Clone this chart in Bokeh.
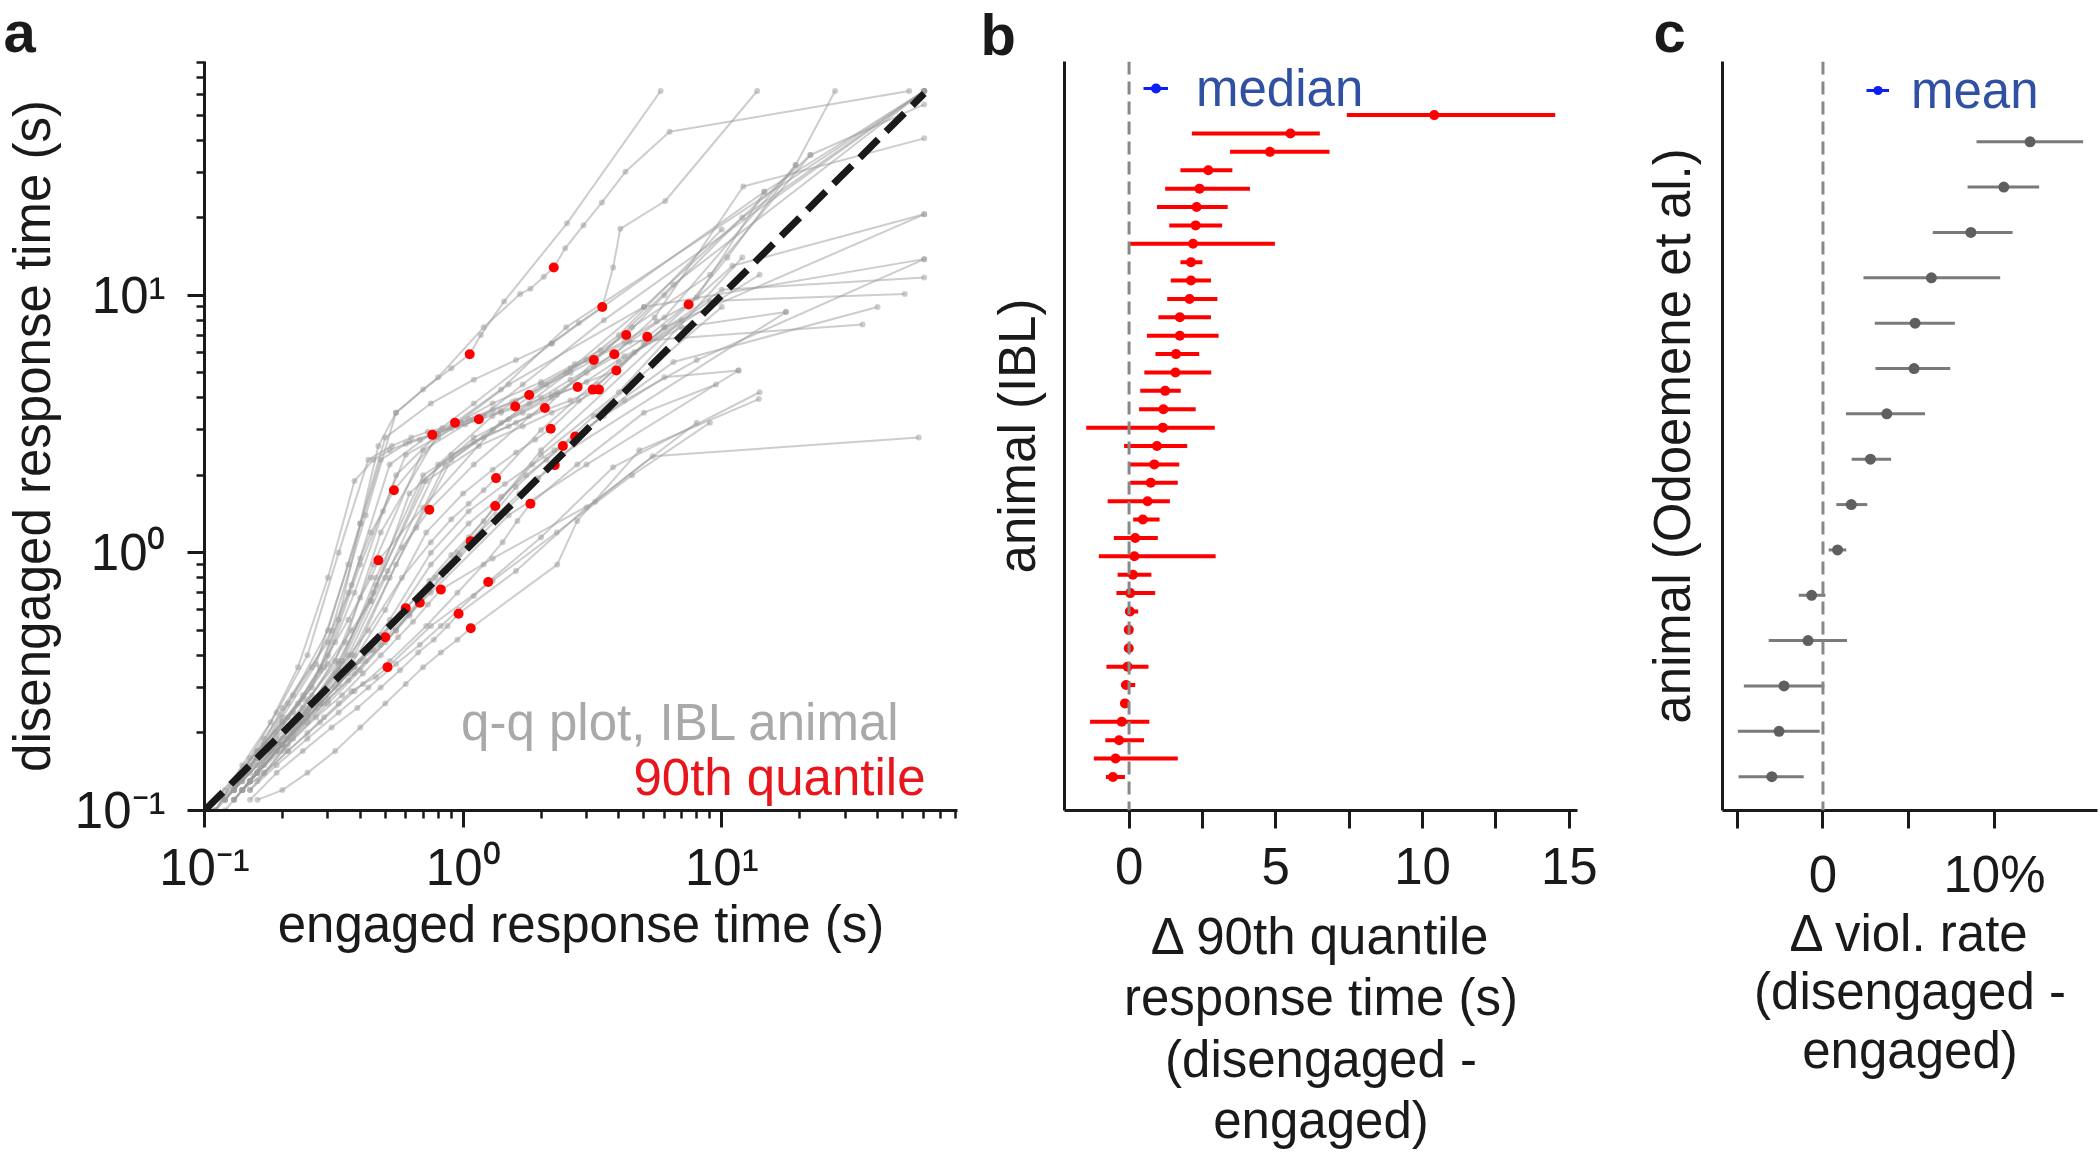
from bokeh.plotting import figure
from bokeh.models import (Range1d, FixedTicker, CustomJSTickFormatter, Span, Label,
                          Legend, LegendItem, Title)
from bokeh.layouts import row
from bokeh.embed import file_html
from bokeh.resources import INLINE

FONT = "Liberation Sans"
FS = "51px"
NAN = float("nan")

# ---------------- panel a : q-q lines (engaged vs disengaged response time, s)
qq_engaged = [
    [0.14, 0.2, 0.3, 0.42, 0.55, 0.8, 1.2, 1.66, 1.82, 2.05, 2.24, 2.48, 2.92, 3.44, 4.24, 6.28, 53.0],
    [0.13, 0.17, 0.22, 0.3, 0.4, 0.5, 0.75, 1.1, 1.6, 2.2, 2.8, 3.45, 3.8, 4.05, 6.04, 13.7],
    [0.15, 0.2, 0.27, 0.36, 0.5, 0.8, 1.3, 2.0, 3.0, 4.2, 5.6, 7.44, 10.5, 19.3, 27.4],
    [0.14, 0.19, 0.26, 0.35, 0.48, 0.8, 1.3, 2.0, 2.7, 3.4, 4.27, 6.0, 12.0, 60.6],
    [0.15, 0.2, 0.27, 0.38, 0.55, 0.9, 1.5, 2.3, 3.0, 3.9, 5.15, 8.0, 14.6, 60.6],
    [0.12, 0.16, 0.2, 0.26, 0.33, 0.4, 0.47, 0.55, 0.7, 0.9, 1.06, 1.17, 1.44, 2.52, 5.8],
    [0.13, 0.18, 0.24, 0.32, 0.45, 0.7, 1.1, 1.6, 2.1, 2.6, 3.2, 4.5, 9.0, 22.0, 60.6],
    [0.15, 0.2, 0.27, 0.37, 0.52, 0.85, 1.4, 2.0, 2.6, 3.2, 3.84, 5.5, 12.1, 60.6],
    [0.14, 0.19, 0.25, 0.33, 0.45, 0.7, 1.1, 1.7, 2.3, 3.0, 3.91, 6.0, 11.0, 60.6],
    [0.13, 0.17, 0.23, 0.3, 0.4, 0.6, 0.95, 1.4, 1.8, 2.2, 2.77, 4.2, 7.0, 17.7],
    [0.15, 0.2, 0.26, 0.34, 0.46, 0.7, 1.1, 1.6, 2.1, 2.6, 3.17, 4.6, 9.0, 51.0],
    [0.14, 0.19, 0.25, 0.33, 0.46, 0.72, 1.15, 1.7, 2.2, 2.8, 3.35, 5.0, 10.0, 60.6],
    [0.13, 0.17, 0.22, 0.29, 0.38, 0.55, 0.8, 1.05, 1.3, 1.55, 1.8, 2.6, 4.4, 35.0],
    [0.12, 0.16, 0.21, 0.28, 0.37, 0.52, 0.75, 0.98, 1.2, 1.4, 1.59, 2.5, 5.0, 60.6],
    [0.14, 0.19, 0.25, 0.33, 0.44, 0.62, 0.9, 1.2, 1.5, 1.8, 2.07, 3.2, 6.5, 60.6],
    [0.12, 0.16, 0.2, 0.27, 0.36, 0.48, 0.62, 0.77, 0.9, 1.02, 1.15, 1.7, 3.5, 60.6],
    [0.11, 0.15, 0.19, 0.25, 0.33, 0.43, 0.53, 0.63, 0.73, 0.83, 0.93, 1.4, 2.5, 60.6],
    [0.11, 0.14, 0.18, 0.23, 0.3, 0.38, 0.45, 0.52, 0.6, 0.68, 0.76, 1.1, 2.2, 14.6],
    [0.15, 0.2, 0.27, 0.37, 0.5, 0.72, 1.0, 1.3, 1.6, 1.9, 2.18, 3.3, 6.0, 60.6],
    [0.16, 0.21, 0.28, 0.38, 0.52, 0.75, 1.05, 1.45, 1.85, 2.25, 2.71, 4.2, 8.0, 60.6],
    [0.16, 0.21, 0.28, 0.38, 0.52, 0.75, 1.05, 1.4, 1.75, 2.1, 2.43, 3.5, 6.0, 11.6],
    [0.17, 0.22, 0.3, 0.4, 0.55, 0.78, 1.05, 1.35, 1.65, 1.95, 2.26, 3.5, 6.5, 40.0],
    [0.14, 0.18, 0.24, 0.32, 0.43, 0.58, 0.75, 0.9, 1.05, 1.2, 1.34, 2.0, 4.0, 14.0],
    [0.11, 0.14, 0.17, 0.21, 0.26, 0.31, 0.36, 0.4, 0.44, 0.49, 0.54, 0.8, 1.5, 5.0, 22.0],
    [0.12, 0.15, 0.19, 0.24, 0.3, 0.37, 0.44, 0.51, 0.58, 0.66, 0.74, 1.1, 2.2, 6.0, 19.3],
    [0.15, 0.19, 0.25, 0.33, 0.44, 0.58, 0.74, 0.9, 1.05, 1.2, 1.33, 2.0, 4.0, 12.0],
    [0.16, 0.21, 0.28, 0.38, 0.52, 0.72, 0.95, 1.2, 1.42, 1.62, 1.82, 2.76, 5.0, 9.5],
    [0.11, 0.13, 0.16, 0.2, 0.24, 0.28, 0.32, 0.36, 0.4, 0.44, 0.47, 0.7, 1.3, 4.0, 10.0],
    [0.15, 0.19, 0.25, 0.33, 0.43, 0.55, 0.68, 0.82, 0.96, 1.1, 1.25, 2.0, 3.8, 14.0],
    [0.13, 0.16, 0.21, 0.27, 0.34, 0.41, 0.48, 0.56, 0.64, 0.73, 0.82, 1.3, 3.24, 5.4, 57.7],
    [0.12, 0.15, 0.19, 0.23, 0.28, 0.33, 0.38, 0.43, 0.48, 0.54, 0.6, 0.95, 2.0, 7.0],
    [0.13, 0.16, 0.2, 0.25, 0.3, 0.36, 0.42, 0.48, 0.55, 0.62, 0.68, 1.05, 2.4, 17.7],
    [0.15, 0.19, 0.24, 0.31, 0.39, 0.48, 0.57, 0.67, 0.77, 0.87, 0.96, 1.6, 3.0, 8.0],
    [0.16, 0.2, 0.25, 0.32, 0.4, 0.5, 0.6, 0.7, 0.82, 0.95, 1.07, 2.31, 2.76, 4.8, 13.9],
    [0.11, 0.13, 0.16, 0.2, 0.24, 0.28, 0.32, 0.36, 0.4, 0.45, 0.5, 0.75, 1.5, 3.0, 11.6],
    [0.12, 0.14, 0.17, 0.21, 0.25, 0.29, 0.33, 0.37, 0.41, 0.46, 0.51, 0.75, 1.3, 2.3, 4.5, 9.0],
    [0.13, 0.17, 0.22, 0.29, 0.38, 0.5, 0.62, 0.74, 0.86, 0.97, 1.07, 1.6, 3.2, 10.0],
]
qq_disengaged = [
    [0.13, 0.25, 0.45, 1.4, 3.5, 4.8, 7.5, 10.1, 10.6, 11.8, 12.8, 15.2, 18.7, 22.9, 30.1, 43.1, 62.0],
    [0.12, 0.18, 0.28, 0.5, 1.3, 2.8, 3.8, 4.7, 5.6, 6.5, 7.8, 9.0, 12.8, 18.1, 23.2, 62.0],
    [0.13, 0.19, 0.27, 0.4, 0.8, 2.2, 3.4, 4.5, 5.6, 6.6, 7.9, 9.2, 14.0, 32.0, 62.0],
    [0.12, 0.18, 0.28, 0.45, 1.2, 2.9, 3.8, 4.6, 5.4, 6.1, 7.0, 10.0, 20.0, 62.0],
    [0.12, 0.17, 0.25, 0.4, 0.9, 2.3, 3.3, 4.2, 5.0, 5.8, 6.9, 9.8, 25.2, 62.0],
    [0.12, 0.17, 0.22, 0.3, 0.55, 1.3, 2.6, 3.5, 4.3, 5.2, 5.9, 7.0, 9.46, 19.0, 62.0],
    [0.12, 0.17, 0.25, 0.38, 0.9, 2.5, 3.3, 3.9, 4.5, 5.0, 5.6, 7.5, 12.0, 35.0, 55.0],
    [0.13, 0.18, 0.26, 0.4, 0.8, 2.2, 3.2, 4.0, 4.7, 5.3, 5.9, 8.2, 26.4, 40.6],
    [0.13, 0.19, 0.27, 0.38, 0.7, 1.9, 2.8, 3.5, 4.1, 4.6, 5.1, 7.5, 13.0, 20.6],
    [0.12, 0.18, 0.26, 0.4, 0.9, 2.4, 3.1, 3.5, 3.8, 4.1, 4.4, 5.8, 7.5, 8.6],
    [0.13, 0.18, 0.26, 0.38, 0.8, 2.0, 2.7, 3.2, 3.6, 3.9, 4.3, 6.0, 9.5, 10.1],
    [0.12, 0.17, 0.25, 0.37, 0.75, 1.9, 2.6, 3.1, 3.5, 3.9, 4.3, 6.5, 10.5, 11.7],
    [0.12, 0.17, 0.24, 0.36, 0.7, 2.0, 2.9, 3.3, 3.6, 3.85, 4.1, 5.2, 6.6, 7.7],
    [0.11, 0.16, 0.23, 0.35, 0.75, 2.2, 2.9, 3.2, 3.4, 3.55, 3.7, 5.0, 9.0, 13.8],
    [0.12, 0.17, 0.24, 0.35, 0.65, 1.7, 2.4, 2.8, 3.1, 3.4, 3.65, 5.5, 11.0, 62.0],
    [0.11, 0.16, 0.23, 0.37, 0.9, 2.3, 2.7, 2.9, 3.05, 3.15, 3.3, 4.5, 8.0, 62.0],
    [0.11, 0.16, 0.24, 0.4, 1.0, 2.3, 2.6, 2.8, 2.95, 3.05, 3.2, 4.3, 7.5, 62.0],
    [0.1, 0.15, 0.22, 0.36, 0.8, 1.9, 2.3, 2.5, 2.65, 2.75, 2.87, 3.8, 6.5, 25.2],
    [0.13, 0.18, 0.26, 0.37, 0.6, 1.2, 1.7, 2.1, 2.45, 2.75, 3.03, 4.5, 7.5, 20.6],
    [0.14, 0.19, 0.26, 0.36, 0.55, 1.0, 1.45, 1.85, 2.2, 2.5, 2.83, 3.9, 5.6, 13.8],
    [0.14, 0.19, 0.26, 0.36, 0.52, 0.9, 1.3, 1.65, 2.0, 2.3, 2.6, 3.4, 4.8, 5.1],
    [0.14, 0.19, 0.26, 0.35, 0.5, 0.8, 1.1, 1.4, 1.7, 1.95, 2.19, 3.5, 5.5, 9.0],
    [0.12, 0.17, 0.24, 0.34, 0.5, 0.8, 1.1, 1.35, 1.55, 1.75, 1.95, 3.0, 5.5, 12.0],
    [0.1, 0.14, 0.19, 0.26, 0.36, 0.5, 0.7, 0.95, 1.2, 1.45, 1.75, 2.8, 4.5, 9.0, 35.0],
    [0.11, 0.15, 0.2, 0.27, 0.37, 0.5, 0.65, 0.85, 1.05, 1.25, 1.47, 2.2, 4.0, 8.2, 32.0],
    [0.13, 0.17, 0.23, 0.31, 0.42, 0.58, 0.78, 0.98, 1.15, 1.33, 1.52, 2.4, 4.2, 14.0],
    [0.13, 0.17, 0.22, 0.29, 0.38, 0.52, 0.7, 0.9, 1.1, 1.33, 1.55, 2.2, 3.5, 4.5],
    [0.1, 0.13, 0.17, 0.22, 0.28, 0.36, 0.45, 0.55, 0.67, 0.8, 0.935, 1.5, 3.0, 7.0, 18.0],
    [0.12, 0.15, 0.19, 0.24, 0.3, 0.37, 0.44, 0.52, 0.6, 0.68, 0.77, 1.15, 2.15, 4.2],
    [0.11, 0.14, 0.18, 0.23, 0.28, 0.34, 0.4, 0.47, 0.54, 0.63, 0.72, 0.95, 1.58, 2.37, 2.8],
    [0.11, 0.14, 0.18, 0.22, 0.27, 0.32, 0.37, 0.42, 0.48, 0.54, 0.61, 1.0, 2.5, 8.0],
    [0.11, 0.14, 0.18, 0.22, 0.27, 0.32, 0.38, 0.44, 0.5, 0.57, 0.64, 1.05, 2.4, 8.6],
    [0.11, 0.14, 0.17, 0.21, 0.25, 0.3, 0.35, 0.41, 0.46, 0.52, 0.58, 0.85, 1.5, 3.2],
    [0.11, 0.12, 0.14, 0.17, 0.21, 0.26, 0.31, 0.36, 0.41, 0.46, 0.51, 0.9, 1.33, 2.5, 3.95],
    [0.1, 0.12, 0.15, 0.18, 0.22, 0.26, 0.3, 0.34, 0.38, 0.42, 0.47, 0.7, 1.4, 2.2, 5.1],
    [0.1, 0.12, 0.14, 0.17, 0.2, 0.23, 0.26, 0.29, 0.31, 0.33, 0.36, 0.52, 0.78, 1.2, 2.0, 3.2],
    [0.11, 0.15, 0.2, 0.26, 0.34, 0.45, 0.58, 0.72, 0.85, 0.98, 1.11, 1.8, 3.4, 9.0],
]
# 90th quantile of each animal (red dots)
q90_engaged = [2.24, 3.45, 7.44, 4.27, 5.15, 1.06, 3.20, 3.84, 3.91, 2.77, 3.17, 3.35, 1.80,
               1.59, 2.07, 1.15, 0.93, 0.76, 2.18, 2.71, 2.43, 2.26, 1.34, 0.54, 0.74, 1.33,
               1.82, 0.47, 1.25, 0.82, 0.60, 0.68, 0.96, 1.07, 0.50, 0.51, 1.07]
q90_disengaged = [12.8, 9.0, 9.2, 7.0, 6.9, 5.9, 5.6, 5.9, 5.1, 4.4, 4.3, 4.3, 4.1,
                  3.7, 3.65, 3.3, 3.2, 2.87, 3.03, 2.83, 2.6, 2.19, 1.95, 1.75, 1.47, 1.52,
                  1.55, 0.935, 0.77, 0.72, 0.61, 0.64, 0.58, 0.51, 0.47, 0.36, 1.11]
diag = [0.1, 60.6]

# ---------------- panel b : delta 90th quantile RT per IBL animal (top to bottom)
b_median = [10.4, 5.5, 4.8, 2.7, 2.4, 2.3, 2.27, 2.18, 2.11, 2.11, 2.06, 1.73, 1.73, 1.6,
            1.58, 1.23, 1.17, 1.15, 0.95, 0.86, 0.74, 0.63, 0.47, 0.21, 0.18, 0.13, 0.04,
            0.03, -0.01, -0.01, -0.05, -0.10, -0.14, -0.25, -0.34, -0.46, -0.55]
b_low = [7.42, 2.14, 3.44, 1.75, 1.23, 0.95, 1.37, 0.03, 1.75, 1.42, 1.30, 1.00, 0.61, 0.90,
         0.52, 0.38, 0.34, -1.46, -0.17, 0.03, 0.03, -0.73, 0.14, -0.52, -1.03, -0.39, -0.43,
         -0.13, -0.12, -0.12, -0.77, -0.27, -0.22, -1.33, -0.81, -1.20, -0.79]
b_high = [14.52, 6.50, 6.83, 3.52, 4.12, 3.36, 3.17, 4.97, 2.50, 2.79, 3.01, 2.79, 3.05, 2.39,
          2.80, 1.76, 2.27, 2.92, 1.98, 1.71, 1.66, 1.39, 1.04, 0.98, 2.95, 0.76, 0.89,
          0.31, 0.10, 0.10, 0.66, 0.21, -0.06, 0.69, 0.51, 1.66, -0.14]

# ---------------- panel c : delta violation rate (%) per animal (top to bottom)
c_mean = [12.07, 10.54, 8.62, 6.32, 5.37, 5.31, 3.72, 2.77, 1.65, 0.85, -0.66, -0.87, -2.27, -2.56, -2.98]
c_low = [8.95, 8.43, 6.40, 2.36, 3.02, 3.06, 1.34, 1.67, 0.78, 0.33, -1.41, -3.16, -4.61, -4.96, -4.92]
c_high = [15.16, 12.60, 11.05, 10.33, 7.69, 7.42, 5.95, 3.97, 2.58, 1.36, 0.14, 1.40, 0.08, -0.19, -1.12]

RED = "#ff0000"
BLUE = "#0a1ef5"
LEG_TEXT = "#3050a3"
AX = "#1a1a1a"


def style_common(p):
    p.outline_line_color = None
    p.xgrid.visible = False
    p.ygrid.visible = False
    p.background_fill_color = "white"
    for ax in (p.xaxis[0], p.yaxis[0]):
        ax.axis_line_width = 3
        ax.axis_line_color = AX
        ax.major_tick_line_width = 3
        ax.major_tick_line_color = AX
        ax.minor_tick_line_width = 2.5
        ax.minor_tick_line_color = AX
        ax.major_tick_in = 0
        ax.minor_tick_in = 0
        ax.major_label_text_font = FONT
        ax.major_label_text_font_size = FS
        ax.major_label_text_color = AX
        ax.axis_label_text_font = FONT
        ax.axis_label_text_font_size = FS
        ax.axis_label_text_font_style = "normal"
        ax.axis_label_text_color = AX


def panel_letter(p, txt, offset, standoff):
    p.title = Title(text=txt, align="left", offset=offset, vertical_align="middle",
                    standoff=standoff, text_font=FONT, text_font_size="58px",
                    text_font_style="bold", text_color=AX)


# ================= panel a
pa = figure(width=975, height=1152, x_axis_type="log", y_axis_type="log",
            x_range=Range1d(0.1, 81.5), y_range=Range1d(0.1, 80.7),
            output_backend="svg", toolbar_location=None,
            min_border_left=201, min_border_right=18, min_border_top=60, min_border_bottom=339)
style_common(pa)

pa.multi_line(xs=qq_engaged, ys=qq_disengaged, line_color="#9c9c9c", line_alpha=0.5, line_width=2)
flat_x = [v for line in qq_engaged for v in line]
flat_y = [v for line in qq_disengaged for v in line]
pa.scatter(flat_x, flat_y, size=6, fill_color="#9c9c9c", line_color=None, fill_alpha=0.5)
pa.scatter(q90_engaged, q90_disengaged, size=10, fill_color=RED, line_color=None)
pa.line(diag, diag, line_color=AX, line_width=7, line_dash="26 11")

minor = [m * 10.0 ** e for e in (-1, 0, 1) for m in range(2, 10) if m * 10.0 ** e <= 81]
log_fmt = CustomJSTickFormatter(code="""
const e = Math.round(Math.log10(tick));
const sup = {"-": "\u207b", "0": "\u2070", "1": "\u00b9", "2": "\u00b2", "3": "\u00b3"};
return "10" + String(e).split("").map(c => sup[c]).join("");
""")
for ax in (pa.xaxis[0], pa.yaxis[0]):
    ax.ticker = FixedTicker(ticks=[0.1, 1, 10], minor_ticks=minor)
    ax.formatter = log_fmt
    ax.major_tick_out = 17
    ax.minor_tick_out = 8
pa.xaxis.major_label_standoff = 11
pa.yaxis.major_label_standoff = 22
pa.xaxis.axis_label = "engaged response time (s)"
pa.yaxis.axis_label = "disengaged response time (s)"
pa.xaxis.axis_label_standoff = -3
pa.yaxis.axis_label_standoff = 11

pa.add_layout(Label(x=696, y=88, x_units="screen", y_units="screen",
                    text="q-q plot, IBL animal", text_align="right", text_baseline="alphabetic",
                    text_font=FONT, text_font_size=FS, text_color="#a9a9a9"))
pa.add_layout(Label(x=721, y=33, x_units="screen", y_units="screen",
                    text="90th quantile", text_align="right", text_baseline="alphabetic",
                    text_font=FONT, text_font_size=FS, text_color="#e8161c"))
panel_letter(pa, "a", -201, -6)

# ================= panel b
nb = len(b_median)
b_rows = [nb - 1 - i for i in range(nb)]
pb = figure(width=665, height=1152, x_range=Range1d(-2.2, 15.28), y_range=Range1d(-1.825, 38.915),
            output_backend="svg", toolbar_location=None,
            min_border_left=89, min_border_right=63, min_border_top=54, min_border_bottom=339)
style_common(pb)
pb.add_layout(Span(location=0, dimension="height", line_color="#888888", line_width=3,
                   line_dash="13 7"))
pb.segment(x0=b_low, x1=b_high, y0=b_rows, y1=b_rows, line_color=RED, line_width=4)
pb.scatter(b_median, b_rows, size=10, fill_color=RED, line_color=None)

pb.xaxis.ticker = FixedTicker(ticks=[0, 2.5, 5, 7.5, 10, 12.5, 15])
pb.xaxis.formatter = CustomJSTickFormatter(code="""
return (Math.abs(tick % 5) < 1e-9) ? String(tick) : "";
""")
pb.xaxis.major_tick_out = 18
pb.xaxis.minor_tick_out = 0
pb.xaxis.major_label_standoff = 19
pb.xaxis.axis_label = "\u0394 90th quantile\nresponse time (s)\n(disengaged -\nengaged)"
pb.xaxis.axis_label_standoff = 21
pb.xaxis.axis_label_text_line_height = 1.08
pb.yaxis.ticker = FixedTicker(ticks=[])
pb.yaxis.major_tick_out = 0
pb.yaxis.minor_tick_out = 0
pb.yaxis.axis_label = "animal (IBL)"
pb.yaxis.axis_label_standoff = 19

lb_line = pb.line(x=[NAN], y=[NAN], line_color=BLUE, line_width=3)
lb_dot = pb.scatter(x=[NAN], y=[NAN], size=8, fill_color=BLUE, line_color=None)
pb.add_layout(Legend(items=[LegendItem(label="median", renderers=[lb_line, lb_dot])],
                     location=(79, 692), padding=0, spacing=0, margin=0,
                     glyph_width=25, glyph_height=60, label_height=60, label_standoff=28,
                     label_text_font=FONT, label_text_font_size=FS, label_text_color=LEG_TEXT,
                     border_line_alpha=0, background_fill_alpha=0))
panel_letter(pb, "b", -84, -12)

# ================= panel c
nc = len(c_mean)
c_rows = [nc - 1 - i for i in range(nc)]
pc = figure(width=460, height=1152, x_range=Range1d(-5.855, 16.0), y_range=Range1d(-0.746, 15.77),
            output_backend="svg", toolbar_location=None,
            min_border_left=81, min_border_right=3, min_border_top=60, min_border_bottom=339)
style_common(pc)
pc.add_layout(Span(location=0, dimension="height", line_color="#888888", line_width=3,
                   line_dash="13 7"))
pc.segment(x0=c_low, x1=c_high, y0=c_rows, y1=c_rows, line_color="#7a7a7a", line_width=3)
pc.scatter(c_mean, c_rows, size=11, fill_color="#5f5f5f", line_color=None)

pc.xaxis.ticker = FixedTicker(ticks=[-5, 0, 5, 10])
pc.xaxis.formatter = CustomJSTickFormatter(code="""
if (Math.abs(tick) < 1e-9) return "0";
return (Math.abs(tick % 10) < 1e-9) ? tick + "%" : "";
""")
pc.xaxis.major_tick_out = 18
pc.xaxis.minor_tick_out = 0
pc.xaxis.major_label_standoff = 17
pc.xaxis.axis_label = "\u0394 viol. rate\n(disengaged -\nengaged)"
pc.xaxis.axis_label_standoff = -1
pc.xaxis.axis_label_text_line_height = 1.03
pc.yaxis.ticker = FixedTicker(ticks=[])
pc.yaxis.major_tick_out = 0
pc.yaxis.minor_tick_out = 0
pc.yaxis.axis_label = "animal (Odoemene et al.)"
pc.yaxis.axis_label_standoff = 22

lc_line = pc.line(x=[NAN], y=[NAN], line_color=BLUE, line_width=3)
lc_dot = pc.scatter(x=[NAN], y=[NAN], size=8, fill_color=BLUE, line_color=None)
pc.add_layout(Legend(items=[LegendItem(label="mean", renderers=[lc_line, lc_dot])],
                     location=(144, 690), padding=0, spacing=0, margin=0,
                     glyph_width=23, glyph_height=60, label_height=60, label_standoff=22,
                     label_text_font=FONT, label_text_font_size=FS, label_text_color=LEG_TEXT,
                     border_line_alpha=0, background_fill_alpha=0))
panel_letter(pc, "c", -69, -6)

layout = row(pa, pb, pc)
open("out.html", "w", encoding="utf-8").write(file_html(layout, INLINE))
